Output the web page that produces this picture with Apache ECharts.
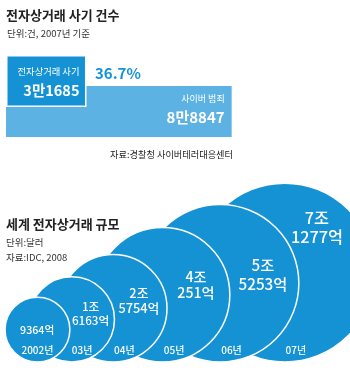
<!DOCTYPE html>
<html>
<head>
<meta charset="utf-8">
<script src="https://cdn.jsdelivr.net/npm/echarts@6/dist/echarts.min.js"></script>
<style>
  html, body { margin: 0; padding: 0; background: #fff; }
  #chart { width: 350px; height: 378px; }
</style>
</head>
<body>
<div id="chart"></div>
<script>
// 전자상거래 사기 건수 (단위: 건, 2007년 기준)
const fraudNames = ['전자상거래 사기', '사이버 범죄'];
const fraudCounts = [31685, 88847];
const fraudShare = '36.7%';

// 세계 전자상거래 규모 (단위: 억 달러)
const years = ['2002년', '03년', '04년', '05년', '06년', '07년'];
const marketSize = [9364, 16163, 25754, 40251, 55253, 71277];

const KR = '"Noto Sans CJK KR", sans-serif';
const BLUE = '#1592d4';
const LIGHT = '#5db2e4';
const INK = '#222';

function manFormat(v) { return Math.floor(v / 10000) + '만' + (v % 10000); }
function eokFormat(v) {
  const jo = Math.floor(v / 10000), eok = v % 10000;
  return jo ? jo + '조\n' + eok + '억' : eok + '억';
}

// Bubble layout: radius unit = sqrt(1조 달러), so bubble areas follow the values.
const PX = 33.5;                 // pixels per radius unit
const X_MAX = 350 / PX;
const Y_MAX = 192 / PX;
const radius = marketSize.map(v => Math.sqrt(v / 10000));
const centers = [];
radius.forEach((r, i) => {
  centers.push(i === 0 ? 0.15 + r : centers[i - 1] + 0.30 + 0.325 * (radius[i - 1] + r));
});

// clearance of a point inside bubble i from every edge that bounds its visible part
function clearance(i, x, y) {
  let d = radius[i] - Math.hypot(x - centers[i], y - radius[i]);
  for (let j = 0; j < i; j++) d = Math.min(d, Math.hypot(x - centers[j], y - radius[j]) - radius[j]);
  return Math.min(d, X_MAX - x);
}
// the roomiest spot of each bubble's visible part, used for its value label
function labelSpot(i) {
  const r = radius[i], cx = centers[i], step = 0.03;
  let best = [cx, r], bestD = -Infinity;
  for (let x = cx - r; x <= cx + r; x += step) {
    for (let y = 0; y <= 2 * r; y += step) {
      const d = clearance(i, x, y);
      if (d > bestD) { bestD = d; best = [x, y]; }
    }
  }
  return best;
}
function halfChord(k, h) {
  const r = radius[k], dy = h - r;
  return Math.sqrt(Math.max(r * r - dy * dy, 0));
}
// middle of the visible strip of bubble i at height h
function visibleMid(i, h) {
  const left = i === 0 ? centers[0] - halfChord(0, h) : centers[i - 1] + halfChord(i - 1, h);
  const right = Math.min(centers[i] + halfChord(i, h), X_MAX);
  return (left + right) / 2;
}
const labelSpots = radius.map((r, i) => labelSpot(i));

function renderBubble(params, api) {
  const i = params.dataIndex;
  const r = radius[i];
  const c = api.coord([api.value(0), r]);
  const rp = api.size([r, 0])[0];
  const hy = 0.36;
  const vp = api.coord(labelSpots[i]);
  const yp = api.coord([visibleMid(i, hy), hy]);
  const fs = 7.5 + 3.3 * r;
  return {
    type: 'group',
    children: [
      { type: 'circle', z2: 10 - i,
        shape: { cx: c[0], cy: c[1], r: rp },
        style: { fill: BLUE, stroke: '#fff', lineWidth: 1.5 } },
      { type: 'text', z2: 100, x: vp[0], y: vp[1],
        style: { text: eokFormat(marketSize[i]), fill: '#fff', fontSize: fs, fontFamily: KR,
                 fontWeight: 500, lineHeight: fs * 1.2, align: 'center', verticalAlign: 'middle',
                 textAlign: 'center', textVerticalAlign: 'middle' } },
      { type: 'text', z2: 100, x: yp[0], y: yp[1],
        style: { text: years[i], fill: '#fff', fontSize: 10, fontFamily: KR, fontWeight: 500,
                 align: 'center', verticalAlign: 'middle',
                 textAlign: 'center', textVerticalAlign: 'middle' } }
    ]
  };
}

function txt(x, y, text, size, opts) {
  opts = opts || {};
  return {
    type: 'text', x: x, y: y, silent: true,
    style: {
      text: text, fill: opts.fill || INK, fontSize: size,
      fontWeight: opts.bold ? 'bold' : 'normal', fontFamily: KR,
      align: opts.align || 'left', verticalAlign: 'middle',
      textAlign: opts.align || 'left', textVerticalAlign: 'middle'
    }
  };
}

const barLabel = (nameSize, valueSize) => ({
  show: true, position: 'insideRight', distance: 7,
  formatter: p => '{n|' + p.name + '}\n{v|' + manFormat(p.value) + '}',
  rich: {
    n: { fontSize: nameSize, fontFamily: KR, color: '#fff', lineHeight: 18, align: 'right' },
    v: { fontSize: valueSize, fontFamily: KR, fontWeight: 'bold', color: '#fff', lineHeight: 20, align: 'right' }
  }
});

const chart = echarts.init(document.getElementById('chart'), null, { renderer: 'canvas' });
chart.setOption({
  animation: false,
  backgroundColor: '#fff',
  grid: [
    { left: 6, top: 55, width: 254, height: 52 },
    { left: 6, top: 86, width: 254, height: 51 },
    { left: 0, top: 170, width: 350, height: 192 }
  ],
  xAxis: [
    { gridIndex: 0, type: 'value', min: 0, max: 100000, show: false },
    { gridIndex: 1, type: 'value', min: 0, max: 100000, show: false },
    { gridIndex: 2, type: 'value', min: 0, max: X_MAX, show: false }
  ],
  yAxis: [
    { gridIndex: 0, type: 'category', data: [fraudNames[0]], show: false },
    { gridIndex: 1, type: 'category', data: [fraudNames[1]], show: false },
    { gridIndex: 2, type: 'value', min: 0, max: Y_MAX, show: false }
  ],
  series: [
    { type: 'bar', xAxisIndex: 1, yAxisIndex: 1, barWidth: '100%',
      data: [{ name: fraudNames[1], value: fraudCounts[1] }],
      itemStyle: { color: LIGHT },
      label: Object.assign(barLabel(9, 15), { offset: [0, -3] }) },
    { type: 'bar', xAxisIndex: 0, yAxisIndex: 0, barWidth: '100%',
      data: [{ name: fraudNames[0], value: fraudCounts[0] }],
      itemStyle: { color: BLUE, borderColor: '#fff', borderWidth: 1.5 },
      label: barLabel(9.3, 14.5) },
    { type: 'custom', xAxisIndex: 2, yAxisIndex: 2, clip: false,
      data: marketSize.map((v, i) => [centers[i], v]),
      renderItem: renderBubble }
  ],
  graphic: [
    txt(6, 15, '전자상거래 사기 건수', 13, { bold: true }),
    txt(7, 33, '단위:건, 2007년 기준', 9.5, { fill: '#333' }),
    txt(95, 73, fraudShare, 15, { bold: true, fill: BLUE }),
    txt(233, 155, '자료:경찰청 사이버테러대응센터', 9.2, { align: 'right' }),
    txt(6, 224, '세계 전자상거래 규모', 13, { bold: true }),
    txt(6, 242, '단위:달러', 9.5, { fill: '#333' }),
    txt(6, 257, '자료:IDC, 2008', 9.5, { fill: '#333' })
  ]
});
</script>
</body>
</html>
